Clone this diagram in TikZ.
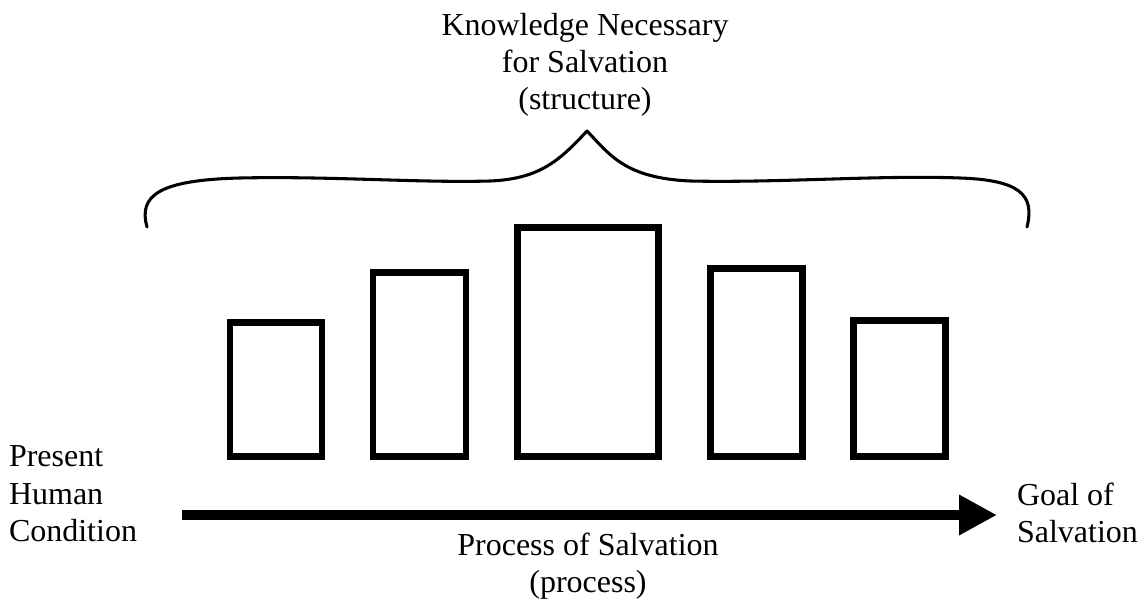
\documentclass[tikz,border=0pt]{standalone}
\usepackage{fontspec}
\setmainfont{Liberation Serif}
\usetikzlibrary{arrows.meta}
\begin{document}
\begin{tikzpicture}[x=0.75pt,y=-0.75pt,
  bar/.style={draw=black, line width=4.9pt, fill=none, inner sep=0pt, outer sep=0pt, rectangle},
  lbl/.style={inner sep=0pt, outer sep=0pt, font=\fontsize{24pt}{27.8pt}\selectfont},
  brace/.style={draw=black, line width=2.3pt, line cap=round, line join=round},
  flow/.style={draw=black, line width=7.5pt, -{Triangle[length=28.5pt,width=28.5pt]}}]
\useasboundingbox (0,0) rectangle (1148,609);
% bars
\node[bar, minimum width=91.75*0.75pt, minimum height=134.5*0.75pt] (b1) at (275.9,389.5) {};
\node[bar, minimum width=92.75*0.75pt, minimum height=184.25*0.75pt] (b2) at (419.6,364.6) {};
\node[bar, minimum width=141*0.75pt, minimum height=229.25*0.75pt] (b3) at (588,342.1) {};
\node[bar, minimum width=92.5*0.75pt, minimum height=188.5*0.75pt] (b4) at (756.5,362.5) {};
\node[bar, minimum width=92.5*0.75pt, minimum height=136.5*0.75pt] (b5) at (899.5,388.5) {};
% brace
\coordinate (bl) at (147,227);
\coordinate (bp) at (587,131);
\coordinate (br) at (1027,227);
\draw[brace] (bl) .. controls (138,195) and (160,180) .. (240,178)
  .. controls (330,176) and (420,183) .. (490,181)
  .. controls (540,179) and (560,160) .. (bp)
  .. controls (610,155) and (625,178) .. (690,181)
  .. controls (780,183) and (880,175) .. (960,178)
  .. controls (1020,180) and (1035,195) .. (br);
% labels
\node[lbl, align=center, anchor=north] (knw) at (585,13) {Knowledge Necessary\\for Salvation\\(structure)};
\node[lbl, align=left, anchor=north west] (start) at (9,446) {Present\\Human\\Condition};
\node[lbl, align=left, anchor=north west] (goal) at (1017,483) {Goal of\\Salvation};
\node[lbl, align=center, anchor=north] (proc) at (588,533) {Process of Salvation\\(process)};
% arrow
\coordinate (as) at (182,515);
\coordinate (ae) at (997,515);
\draw[flow] (as) -- (ae);
\end{tikzpicture}
\end{document}
